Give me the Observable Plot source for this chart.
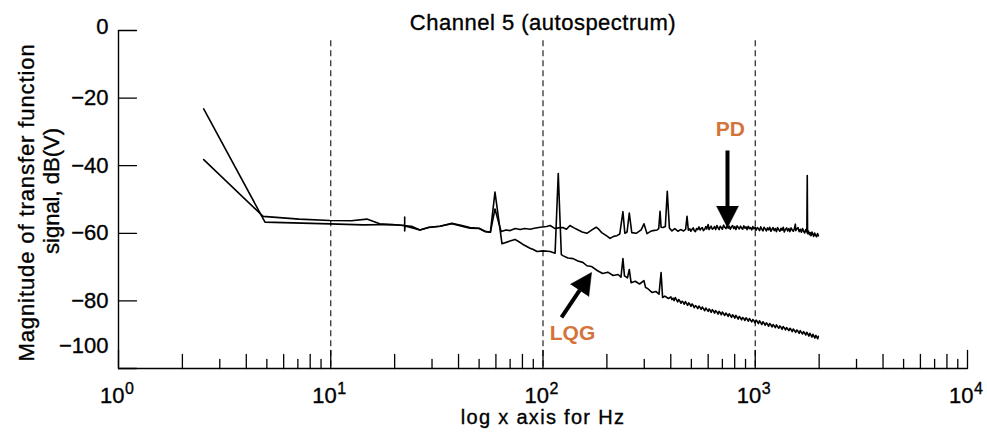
<!DOCTYPE html>
<html>
<head>
<meta charset="utf-8">
<script src="https://cdn.jsdelivr.net/npm/d3@7"></script>
<script src="https://cdn.jsdelivr.net/npm/@observablehq/plot@0.6"></script>
<style>
  html, body { margin: 0; padding: 0; background: #fff; }
  #chart { width: 987px; height: 435px; }
</style>
</head>
<body>
<div id="chart"></div>
<script>
// ---------- Data (frequency in Hz, magnitude in dB(V)) ----------
const pdLow = [[2.52,-38.2],[4.8,-55.0],[7.1,-55.8],[9.9,-56.2],[12.5,-56.3],[14.8,-55.8],[17.0,-57.2],[21.2,-57.6],[24.0,-57.9],[26.3,-59.0],[29,-58.3],[32.7,-57.9],[37.2,-57.2],[41,-57.8],[45.3,-58.5],[50,-58.6],[53.3,-59.5],[56.5,-59.7],[59.4,-52.8],[63.5,-59.5],[67,-59.0],[70,-59.2],[74,-58.6],[78,-58.9],[82,-58.6],[87,-58.8],[91,-58.5]];
const pdMid = [[97,-58.2],[104,-58.0],[108,-57.7],[114,-58.6],[118,-58.4],[124,-58.3],[129,-58.8],[134,-57.7],[140,-58.4],[145,-58.9],[153,-59.6],[161,-60.0],[170,-59.0],[178,-58.2],[183,-58.8],[189,-59.8],[198,-60.6],[207,-61.5],[215,-60.9],[223,-60.7],[230,-60.2],[238,-53.6],[243,-60.0],[249,-59.6],[255,-54.0],[262,-59.8],[275,-60.0],[290,-59.0],[299,-57.2],[309,-60.1],[320,-59.5],[330,-59.2],[345,-59.0],[351,-58.6],[356,-53.5],[360,-58.2],[368,-58.3],[377,-58.0],[385,-47.6],[394,-58.4],[405,-59.3],[418,-58.6],[432,-59.4],[445,-58.9],[460,-59.3],[470,-58.8],[477,-55.0],[484,-59.1]];
const pdHigh = [[492,-58.7],[497,-59.4],[503,-58.9],[510,-58.4],[516,-59.2],[523,-59.5],[529,-58.6],[536,-58.9],[543,-58.1],[550,-59.0],[556,-58.6],[563,-58.3],[570,-59.2],[578,-58.8],[585,-58.0],[591,-58.7],[600,-57.4],[606,-58.9],[613,-58.4],[620,-57.9],[628,-58.8],[636,-58.5],[643,-58.0],[651,-58.9],[660,-57.7],[668,-58.4],[676,-58.9],[684,-57.9],[692,-58.3],[700,-58.8],[709,-57.6],[718,-58.2],[727,-58.6],[736,-57.8],[745,-58.5],[754,-57.9],[763,-58.8],[773,-58.1],[782,-57.7],[792,-58.6],[801,-58.0],[811,-58.9],[821,-57.8],[831,-58.3],[841,-58.7],[852,-57.9],[862,-58.4],[873,-58.8],[883,-57.8],[894,-58.5],[905,-58.1],[916,-58.9],[927,-57.9],[939,-58.6],[950,-58.3],[962,-59.0],[974,-58.0],[986,-58.7],[998,-58.2],[1010,-59.1],[1023,-58.3],[1035,-58.6],[1048,-59.2],[1061,-58.1],[1074,-58.8],[1087,-59.3],[1100,-58.2],[1114,-58.7],[1128,-59.3],[1142,-58.4],[1156,-59.0],[1170,-58.2],[1185,-59.4],[1199,-58.8],[1214,-58.3],[1228,-59.2],[1243,-58.6],[1259,-59.5],[1274,-58.3],[1290,-58.9],[1306,-59.4],[1322,-58.5],[1338,-59.1],[1354,-58.2],[1371,-59.6],[1388,-58.8],[1405,-58.4],[1422,-59.3],[1440,-58.6],[1457,-59.5],[1475,-58.4],[1493,-59.0],[1511,-59.4],[1530,-58.5],[1545,-57.3],[1552,-59.2],[1570,-58.7],[1590,-58.3],[1610,-59.5],[1630,-58.8],[1650,-59.7],[1670,-58.6],[1690,-59.4],[1710,-59.9],[1730,-58.9],[1750,-59.6],[1758,-42.9],[1764,-60.1],[1780,-59.3],[1798,-60.4],[1815,-59.8],[1832,-60.7],[1850,-59.6],[1868,-60.3],[1886,-60.9],[1905,-59.9],[1925,-60.6],[1945,-61.0],[1965,-60.1],[1983,-60.7]];

const lqgLow = [[2.52,-23.2],[4.9,-56.7],[9.9,-57.2],[14.2,-57.5],[19.5,-57.4],[22.3,-57.7],[22.3,-55.2],[22.3,-59.3],[22.4,-57.8],[26.3,-59.0],[29,-58.2],[32.7,-57.9],[37.2,-57.0],[41,-57.6],[45.3,-58.3],[50,-58.5],[53.3,-59.4],[56.5,-59.7],[59.4,-47.8],[64.1,-63.1],[69.9,-62.3],[73.8,-61.8],[77,-62.5],[80.5,-63.3],[86.9,-64.4],[90,-64.8],[93.7,-65.4],[100,-65.2],[108,-65.4],[114,-65.9],[118,-42.3],[122,-66.3]];
const lqgMid = [[124,-66.6],[131,-67.3],[138.6,-67.5],[146,-68.2],[154,-68.6],[161,-69.6],[169,-69.8],[180,-71.0],[191,-71.9],[202,-71.5],[214,-72.5],[226,-72.2],[233,-73.0],[238,-67.5],[242,-72.6],[250,-73.2],[255,-70.7],[260,-74.6],[272,-74.2],[285,-75.0],[299,-74.0],[304,-76.0],[312,-76.4],[326,-77.5],[340,-77.2],[352,-78.0],[360,-71.6],[366,-79.0],[375,-78.6],[390,-79.3]];
const lqgHigh = [[400,-78.8],[405,-79.6],[410,-79.2],[415,-79.9],[420,-79.0],[426,-79.7],[431,-80.3],[436,-79.6],[441,-80.0],[447,-80.7],[452,-80.1],[458,-80.4],[463,-81.0],[469,-80.2],[475,-80.8],[480,-81.3],[486,-80.6],[492,-81.0],[498,-81.6],[504,-80.9],[510,-81.3],[516,-82.0],[523,-81.4],[529,-81.7],[536,-82.3],[543,-81.5],[550,-82.0],[556,-82.5],[563,-81.8],[570,-82.3],[578,-82.9],[585,-82.1],[591,-82.5],[600,-83.1],[606,-82.4],[613,-82.8],[620,-83.4],[628,-82.6],[636,-83.0],[643,-83.6],[651,-82.9],[660,-83.3],[668,-83.9],[676,-83.1],[684,-83.5],[692,-84.1],[700,-83.3],[709,-83.8],[718,-84.3],[727,-83.6],[736,-84.0],[745,-84.6],[754,-83.8],[763,-84.3],[773,-84.9],[782,-84.1],[792,-84.5],[801,-85.1],[811,-84.3],[821,-84.8],[831,-85.4],[841,-84.6],[852,-85.0],[862,-85.6],[873,-84.9],[883,-85.2],[894,-85.8],[905,-85.0],[916,-85.4],[927,-86.0],[939,-85.2],[950,-85.7],[962,-86.2],[974,-85.5],[986,-85.9],[998,-86.5],[1010,-85.7],[1023,-86.1],[1035,-86.7],[1048,-85.9],[1061,-86.4],[1074,-87.0],[1087,-86.2],[1100,-86.6],[1114,-87.2],[1128,-86.5],[1142,-86.9],[1156,-87.5],[1170,-86.7],[1185,-87.1],[1199,-87.7],[1214,-87.0],[1228,-87.4],[1243,-87.9],[1259,-87.1],[1274,-87.6],[1290,-88.1],[1306,-87.4],[1322,-87.8],[1338,-88.4],[1354,-87.6],[1371,-88.0],[1388,-88.6],[1405,-87.9],[1422,-88.3],[1440,-88.8],[1457,-88.1],[1475,-88.5],[1493,-89.1],[1511,-88.3],[1530,-88.8],[1550,-89.3],[1570,-88.6],[1590,-89.0],[1610,-89.6],[1630,-88.8],[1650,-89.3],[1670,-89.8],[1690,-89.1],[1710,-89.5],[1730,-90.1],[1750,-89.3],[1770,-89.8],[1790,-90.4],[1810,-89.6],[1830,-90.1],[1850,-90.7],[1870,-89.9],[1890,-90.4],[1910,-91.0],[1930,-90.2],[1950,-90.7],[1970,-91.2],[1983,-90.5]];

// ---------- Axes / tick values ----------
const xMajor = [1, 10, 100, 1000, 10000];
const xMajorExp = ["0", "1", "2", "3", "4"];
const xMinorLong = [2, 4, 6, 8, 20, 40, 60, 80, 200, 400, 600, 800, 2000, 4000, 6000, 8000];
const xMinorShort = [3, 5, 7, 9, 30, 50, 70, 90, 300, 500, 700, 900, 3000, 5000, 7000, 9000];
const xDashed = [10, 100, 1000];
const yTicks = [0, -20, -40, -60, -80, -100];
const yTickLabels = ["0", "\u221220", "\u221240", "\u221260", "\u221280", "\u2212100"];

// ---------- Text ----------
const titleText = "Channel 5 (autospectrum)";
const xLabel = "log x axis for Hz";
const yLabel1 = "Magnitude of transfer function";
const yLabel2 = "signal, dB(V)";

// ---------- Annotations ----------
const labels = [
  {text: "PD", x: 764, y: -29.2},
  {text: "LQG", x: 137.7, y: -89.6}
];
const arrowShafts = [
  {x1: 740, y1: -35.5, x2: 740, y2: -52.5},
  {x1: 122.2, y1: -84.9, x2: 149, y2: -76.8}
];
const arrowHeads = [
  {x: 740, y: -58.3, angle: 180},
  {x: 169.3, y: -71.6, angle: 33.7}
];

const orange = "#d4733a";
const font = "'Liberation Sans', Arial, Helvetica, sans-serif";
const tickShape = {draw(context, l) { context.moveTo(0, 0); context.lineTo(0, -l); }};
const ink = {fill: "black"};

const pd = [...pdLow, ...pdMid, ...pdHigh];
const lqg = [...lqgLow, ...lqgMid, ...lqgHigh];

const chart = Plot.plot({
  width: 987,
  height: 435,
  marginTop: 30,
  marginBottom: 67,
  marginLeft: 118,
  marginRight: 20,
  style: {fontFamily: font, fontSize: "22px", color: "black", background: "white"},
  x: {type: "log", domain: [1, 10000], axis: null},
  y: {domain: [-100, 0], axis: null},
  marks: [
    // dashed decade guides
    Plot.ruleX(xDashed, {y1: -3, y2: -100, stroke: "#222", strokeWidth: 1.2, strokeDasharray: "6,4"}),
    // axis lines
    Plot.ruleY([-100], {stroke: "black", strokeWidth: 1.4}),
    Plot.ruleX([1], {y1: 0, y2: -100, stroke: "black", strokeWidth: 1.4}),
    // x ticks (pointing up)
    Plot.vector(xMajor, {x: d => d, frameAnchor: "bottom", length: 18, anchor: "start", shape: tickShape, stroke: "black", strokeWidth: 1.3}),
    Plot.vector(xMinorLong, {x: d => d, frameAnchor: "bottom", length: 14, anchor: "start", shape: tickShape, stroke: "black", strokeWidth: 1.3}),
    Plot.vector(xMinorShort, {x: d => d, frameAnchor: "bottom", length: 9, anchor: "start", shape: tickShape, stroke: "black", strokeWidth: 1.3}),
    // y ticks (pointing right)
    Plot.vector(yTicks, {y: d => d, frameAnchor: "left", length: 18, rotate: 90, anchor: "start", shape: tickShape, stroke: "black", strokeWidth: 1.3}),
    // y tick labels
    Plot.text(yTicks, {filter: d => d < 0 && d > -100, y: d => d, frameAnchor: "left", text: d => yTickLabels[yTicks.indexOf(d)], textAnchor: "end", dx: -10, fontSize: 22, ...ink}),
    Plot.text(yTicks, {filter: d => d === 0, y: d => d, frameAnchor: "left", text: d => yTickLabels[yTicks.indexOf(d)], textAnchor: "end", dx: -10, dy: -4, fontSize: 22, ...ink}),
    Plot.text(yTicks, {filter: d => d === -100, y: d => d, frameAnchor: "left", text: d => yTickLabels[yTicks.indexOf(d)], textAnchor: "end", dx: -10, dy: -23, fontSize: 22, ...ink}),
    // x tick labels 10^n
    Plot.text(xMajor, {x: d => d, frameAnchor: "bottom", text: () => "10", textAnchor: "end", lineAnchor: "bottom", dx: 6, dy: 34, fontSize: 22, ...ink}),
    Plot.text(xMajor, {x: d => d, frameAnchor: "bottom", text: (d, i) => xMajorExp[i], textAnchor: "start", lineAnchor: "bottom", dx: 6.5, dy: 25.5, fontSize: 16, ...ink}),
    // titles
    Plot.text([titleText], {frameAnchor: "top", lineAnchor: "bottom", dy: -1, fontSize: 22, ...ink}),
    Plot.text([xLabel], {frameAnchor: "bottom", lineAnchor: "bottom", dy: 55, fontSize: 20, ...ink}),
    Plot.text([yLabel1], {frameAnchor: "left", textAnchor: "middle", lineAnchor: "bottom", rotate: -90, dx: -85, dy: 3, fontSize: 22, ...ink}),
    Plot.text([yLabel2], {frameAnchor: "left", textAnchor: "middle", lineAnchor: "bottom", rotate: -90, dx: -60, dy: -8.5, fontSize: 22, ...ink}),
    // data
    Plot.line(pd, {x: d => d[0], y: d => d[1], stroke: "black", strokeWidth: 1.6, strokeLinejoin: "round"}),
    Plot.line(lqg, {x: d => d[0], y: d => d[1], stroke: "black", strokeWidth: 1.6, strokeLinejoin: "round"}),
    // annotations
    Plot.link(arrowShafts, {x1: "x1", y1: "y1", x2: "x2", y2: "y2", stroke: "black", strokeWidth: 4}),
    Plot.vector(arrowHeads, {x: "x", y: "y", rotate: "angle", length: 21.5, r: 11, anchor: "end", shape: "spike", fill: "black", stroke: "black", strokeWidth: 0.5}),
    Plot.text(labels, {x: "x", y: "y", text: "text", fill: orange, fontWeight: "bold", fontSize: 21})
  ]
});

// slightly heavier glyphs (the reference type is medium weight) and letter spacing
d3.select(chart).selectAll("text").each(function() {
  const t = this.textContent;
  if (this.getAttribute("fill") === "black" || this.closest("g[fill='black']")) {
    this.setAttribute("stroke", "black");
    this.setAttribute("stroke-width", "0.35");
  }
  if (t === titleText) this.setAttribute("letter-spacing", "0.5");
  if (t === xLabel) this.setAttribute("letter-spacing", "1.3");
  if (t === yLabel1) this.setAttribute("letter-spacing", "0.9");
});

document.getElementById("chart").appendChild(chart);
</script>
</body>
</html>
